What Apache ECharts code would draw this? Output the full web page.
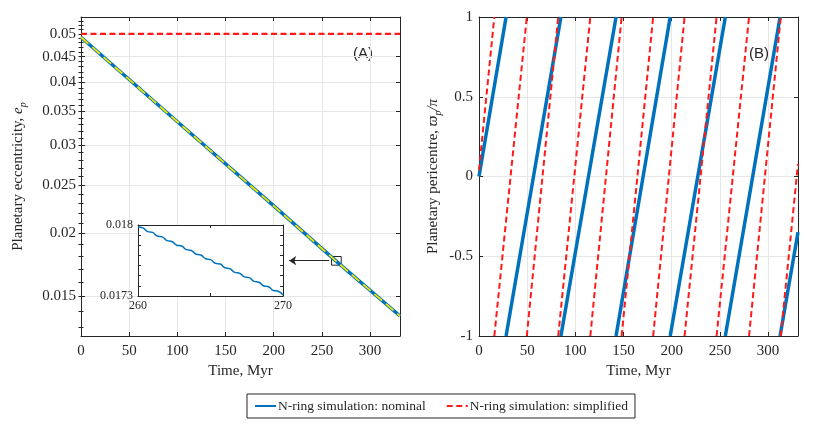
<!DOCTYPE html>
<html>
<head>
<meta charset="utf-8">
<script src="https://cdn.jsdelivr.net/npm/echarts/dist/echarts.min.js"></script>
<style>
  html, body { margin: 0; padding: 0; background: #fff; }
  #chart { width: 831px; height: 428px; }
</style>
</head>
<body>
<div id="chart"></div>
<script>
// ---- data ----
const timeTicks = [0, 50, 100, 150, 200, 250, 300];

// (A) eccentricity
const eccTicks = [0.015, 0.02, 0.025, 0.03, 0.035, 0.04, 0.045, 0.05];
const eccMinorTicks = [0.013, 0.014, 0.015, 0.016, 0.017, 0.018, 0.019, 0.020, 0.021, 0.022, 0.023,
  0.024, 0.025, 0.026, 0.027, 0.028, 0.029, 0.030, 0.031, 0.032, 0.033, 0.034, 0.035, 0.036,
  0.037, 0.038, 0.039, 0.040, 0.041, 0.042, 0.043, 0.044, 0.045, 0.046, 0.047, 0.048, 0.049,
  0.050, 0.051, 0.052, 0.053];
const eccTime = [0, 100, 200, 265, 331];
const eccNominal = [0.0492, 0.0334, 0.0227, 0.0176, 0.0137];
const eccAnalytic = [0.0492, 0.0334, 0.0227, 0.0176, 0.0137];
const eccSimplifiedTime = [0, 331];
const eccSimplified = [0.05, 0.05];

// inset (zoom of 260-270 Myr)
const insetTime = [260, 260.33, 260.67, 261, 261.33, 261.67, 262, 262.33, 262.67, 263,
  263.33, 263.67, 264, 264.33, 264.67, 265, 265.33, 265.67, 266, 266.33, 266.67, 267,
  267.33, 267.67, 268, 268.33, 268.67, 269, 269.33, 269.67, 270];
const insetEcc = [0.017980, 0.017972, 0.017935, 0.017927, 0.017891, 0.017883, 0.017846,
  0.017838, 0.017801, 0.017793, 0.017757, 0.017749, 0.017712, 0.017704, 0.017667, 0.017659,
  0.017623, 0.017615, 0.017578, 0.017570, 0.017533, 0.017525, 0.017489, 0.017481, 0.017444,
  0.017436, 0.017399, 0.017391, 0.017355, 0.017347, 0.017310];
const insetYTicks = [0.0173, 0.0174, 0.0175, 0.0176, 0.0177, 0.0178, 0.0179, 0.018];

// (B) pericentre (wraps at +/-1)
const periNominalTime = [0, 28.1, 28.1, 85, 85, 142.2, 142.2, 198.4, 198.4, 255.6, 255.6, 312.4, 312.4, 331];
const periNominal = [0, 1, -1, 1, -1, 1, -1, 1, -1, 1, -1, 1, -1, -0.35];
const periSimplifiedTime = [0, 15.9, 15.9, 49.6, 49.6, 82.2, 82.2, 115.5, 115.5, 148, 148,
  180.7, 180.7, 213.3, 213.3, 246.5, 246.5, 280.2, 280.2, 313.1, 313.1, 331];
const periSimplified = [0.04, 1, -1, 1, -1, 1, -1, 1, -1, 1, -1, 1, -1, 1, -1, 1, -1, 1, -1, 1, -1, 0.08];

// ---- helpers ----
const BLUE = '#0072BD';
const RED = '#ff1a1a';
const YELLOW = '#f2e600';
const AXIS = '#262626';
const GRIDC = '#e6e6e6';
const SERIF = 'Liberation Serif';

function pairs(xs, ys) {
  const out = [];
  xs.forEach((x, i) => {
    // a repeated time means the angle wrapped: break the line there
    if (i > 0 && x === xs[i - 1]) out.push([x, '-']);
    out.push([x, ys[i]]);
  });
  return out;
}

function boxAxis(extra) {
  return Object.assign({
    axisLine: { show: true, onZero: false, lineStyle: { color: AXIS, width: 1 } },
    axisTick: { show: true, inside: true, length: 4, lineStyle: { color: AXIS } },
    axisLabel: { show: false },
    splitLine: { show: false }
  }, extra);
}

const labelStyle = { color: AXIS, fontFamily: SERIF, fontSize: 15 };
const nameRich = {
  i: { fontStyle: 'italic', fontFamily: SERIF, fontSize: 15, color: AXIS, lineHeight: 20 },
  s: { fontStyle: 'italic', fontFamily: SERIF, fontSize: 10, color: AXIS, lineHeight: 20, verticalAlign: 'bottom' }
};

const chart = echarts.init(document.getElementById('chart'));

chart.setOption({
  animation: false,
  backgroundColor: '#fff',
  grid: [
    { left: 81, top: 17, width: 319, height: 319 },
    { left: 479, top: 17, width: 319, height: 319 },
    { left: 138, top: 225, width: 145, height: 71, show: true, backgroundColor: '#fff', borderWidth: 0, z: 10 }
  ],
  xAxis: [
    boxAxis({
      gridIndex: 0, type: 'value', min: 0, max: 331, position: 'bottom',
      axisTick: { show: true, inside: true, length: 4, lineStyle: { color: AXIS }, customValues: timeTicks },
      axisLabel: Object.assign({ show: true, margin: 8, customValues: timeTicks }, labelStyle),
      splitLine: { show: true, lineStyle: { color: GRIDC } },
      name: 'Time, Myr', nameLocation: 'middle', nameGap: 24,
      nameTextStyle: { color: AXIS, fontFamily: SERIF, fontSize: 15 }
    }),
    boxAxis({
      gridIndex: 0, type: 'value', min: 0, max: 331, position: 'top',
      axisTick: { show: true, inside: true, length: 4, lineStyle: { color: AXIS }, customValues: timeTicks }
    }),
    boxAxis({
      gridIndex: 1, type: 'value', min: 0, max: 331, position: 'bottom',
      axisTick: { show: true, inside: true, length: 4, lineStyle: { color: AXIS }, customValues: timeTicks },
      axisLabel: Object.assign({ show: true, margin: 8, customValues: timeTicks }, labelStyle),
      splitLine: { show: true, lineStyle: { color: GRIDC } },
      name: 'Time, Myr', nameLocation: 'middle', nameGap: 24,
      nameTextStyle: { color: AXIS, fontFamily: SERIF, fontSize: 15 }
    }),
    boxAxis({
      gridIndex: 1, type: 'value', min: 0, max: 331, position: 'top',
      axisTick: { show: true, inside: true, length: 4, lineStyle: { color: AXIS }, customValues: timeTicks }
    }),
    boxAxis({
      gridIndex: 2, type: 'value', min: 260, max: 270, position: 'bottom', z: 12,
      axisTick: { show: true, inside: true, length: 3, lineStyle: { color: AXIS }, customValues: [260, 265, 270] },
      axisLabel: { show: true, margin: 4, customValues: [260, 270], color: AXIS, fontFamily: SERIF, fontSize: 12 }
    }),
    boxAxis({
      gridIndex: 2, type: 'value', min: 260, max: 270, position: 'top', z: 12,
      axisTick: { show: true, inside: true, length: 3, lineStyle: { color: AXIS }, customValues: [260, 265, 270] }
    })
  ],
  yAxis: [
    boxAxis({
      gridIndex: 0, type: 'log', logBase: 10, min: 0.0125, max: 0.054, position: 'left',
      axisTick: { show: true, inside: true, length: 4, lineStyle: { color: AXIS }, customValues: eccTicks },
      axisLabel: Object.assign({ show: true, margin: 5, customValues: eccTicks }, labelStyle),
      splitLine: { show: true, lineStyle: { color: GRIDC } },
      name: 'Planetary eccentricity, {i|e}{s|p}', nameLocation: 'middle', nameGap: 53,
      nameTextStyle: { color: AXIS, fontFamily: SERIF, fontSize: 15, lineHeight: 20, rich: nameRich }
    }),
    boxAxis({
      gridIndex: 0, type: 'log', logBase: 10, min: 0.0125, max: 0.054, position: 'right',
      axisTick: { show: true, inside: true, length: 4, lineStyle: { color: AXIS }, customValues: eccTicks }
    }),
    boxAxis({
      gridIndex: 0, type: 'log', logBase: 10, min: 0.0125, max: 0.054, position: 'left',
      axisLine: { show: false },
      axisTick: { show: true, inside: true, length: 2.5, lineStyle: { color: AXIS }, customValues: eccMinorTicks }
    }),
    boxAxis({
      gridIndex: 0, type: 'log', logBase: 10, min: 0.0125, max: 0.054, position: 'right',
      axisLine: { show: false },
      axisTick: { show: true, inside: true, length: 2.5, lineStyle: { color: AXIS }, customValues: eccMinorTicks }
    }),
    boxAxis({
      gridIndex: 1, type: 'value', min: -1, max: 1, interval: 0.5, position: 'left',
      axisLabel: Object.assign({ show: true, margin: 6 }, labelStyle),
      splitLine: { show: true, lineStyle: { color: GRIDC } },
      name: 'Planetary pericentre, {i|ϖ}{s|p}{i|/π}', nameLocation: 'middle', nameGap: 36,
      nameTextStyle: { color: AXIS, fontFamily: SERIF, fontSize: 15, lineHeight: 20, rich: nameRich }
    }),
    boxAxis({
      gridIndex: 1, type: 'value', min: -1, max: 1, interval: 0.5, position: 'right'
    }),
    boxAxis({
      gridIndex: 2, type: 'value', min: 0.0173, max: 0.018, position: 'left', z: 12,
      axisTick: { show: true, inside: true, length: 3, lineStyle: { color: AXIS }, customValues: insetYTicks },
      axisLabel: { show: true, margin: 5, customValues: [0.0173, 0.018], color: AXIS, fontFamily: SERIF, fontSize: 12 }
    }),
    boxAxis({
      gridIndex: 2, type: 'value', min: 0.0173, max: 0.018, position: 'right', z: 12,
      axisTick: { show: true, inside: true, length: 3, lineStyle: { color: AXIS }, customValues: insetYTicks }
    })
  ],
  legend: {
    left: 247, top: 394,
    data: ['N-ring simulation: nominal', 'N-ring simulation: simplified'],
    itemWidth: 21, itemHeight: 14, itemGap: 20,
    padding: [5, 7, 5, 7],
    borderColor: AXIS, borderWidth: 1,
    lineStyle: { width: 2 },
    itemStyle: { opacity: 0, color: 'rgba(0,0,0,0)', borderWidth: 0 },
    textStyle: { color: AXIS, fontFamily: SERIF, fontSize: 13.5, padding: [0, 0, 0, -3] }
  },
  graphic: [
    { type: 'text', left: 353, top: 46, style: { text: '(A)', fill: AXIS, font: '15px "Liberation Sans"' } },
    { type: 'text', left: 749, top: 46, style: { text: '(B)', fill: AXIS, font: '15px "Liberation Sans"' } }
  ],
  series: [
    {
      name: 'N-ring simulation: nominal', type: 'line', xAxisIndex: 0, yAxisIndex: 0,
      data: pairs(eccTime, eccNominal), symbol: 'none', z: 2,
      lineStyle: { color: BLUE, width: 3.5 }, itemStyle: { color: BLUE },
      markArea: {
        silent: true,
        itemStyle: { color: 'rgba(0,0,0,0)', borderColor: AXIS, borderWidth: 1 },
        data: [[{ coord: [260, 0.018] }, { coord: [270, 0.0173] }]]
      },
      markLine: {
        silent: true, symbol: ['none', 'arrow'], symbolSize: 7,
        label: { show: false },
        lineStyle: { color: AXIS, width: 1, type: 'solid' },
        data: [[{ coord: [257.5, 0.01766] }, { coord: [216, 0.01766] }]]
      }
    },
    {
      name: 'analytic', type: 'line', xAxisIndex: 0, yAxisIndex: 0,
      data: pairs(eccTime, eccAnalytic), symbol: 'none', z: 3,
      lineStyle: { color: YELLOW, width: 1.8, type: [10, 5] }
    },
    {
      name: 'N-ring simulation: simplified', type: 'line', xAxisIndex: 0, yAxisIndex: 0,
      data: pairs(eccSimplifiedTime, eccSimplified), symbol: 'none', z: 3,
      lineStyle: { color: RED, width: 2.2, type: [6, 3.5] }, itemStyle: { color: RED }
    },
    {
      name: 'N-ring simulation: nominal', type: 'line', xAxisIndex: 2, yAxisIndex: 4,
      data: pairs(periNominalTime, periNominal), symbol: 'none', connectNulls: false, z: 2,
      lineStyle: { color: BLUE, width: 3.5 }, itemStyle: { color: BLUE }
    },
    {
      name: 'N-ring simulation: simplified', type: 'line', xAxisIndex: 2, yAxisIndex: 4,
      data: pairs(periSimplifiedTime, periSimplified), symbol: 'none', connectNulls: false, z: 3,
      lineStyle: { color: RED, width: 2, type: [6, 3.5] }, itemStyle: { color: RED }
    },
    {
      name: 'inset', type: 'line', xAxisIndex: 4, yAxisIndex: 6,
      data: pairs(insetTime, insetEcc), symbol: 'none', smooth: true, z: 13,
      lineStyle: { color: BLUE, width: 1.5 }
    }
  ]
});
</script>
</body>
</html>
